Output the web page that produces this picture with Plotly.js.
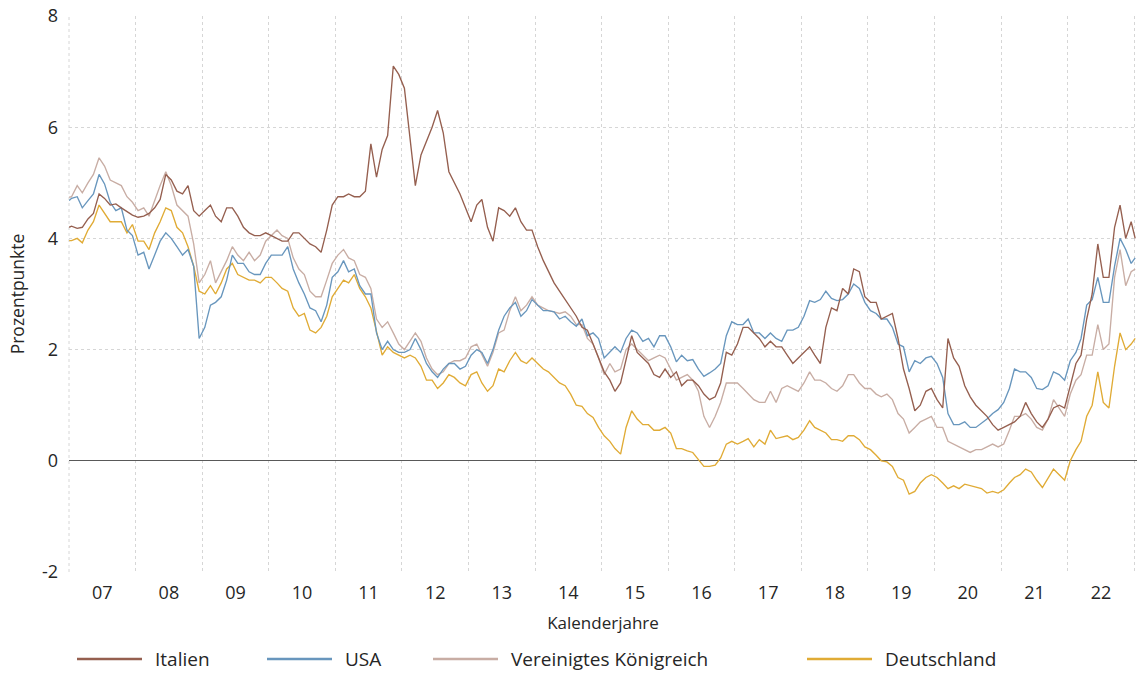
<!DOCTYPE html>
<html><head><meta charset="utf-8">
<script src="https://cdn.plot.ly/plotly-3.0.1.min.js"></script>
<style>html,body{margin:0;padding:0;background:#fff}#chart{width:1138px;height:673px}</style>
</head><body><div id="chart"></div>
<script>
// x positions: first trading day, mid-month for each month of the years, last day shown
const startDate = '2007-01-02';
const endDate = '2023-01-06';
const years = [2007,2008,2009,2010,2011,2012,2013,2014,2015,2016,2017,2018,2019,2020,2021,2022];
const seriesNames = ['Italien', 'USA', 'Vereinigtes Königreich', 'Deutschland'];
const yTickVals = [-2, 0, 2, 4, 6, 8];
const yTickText = ['-2', '0', '2', '4', '6', '8'];

// values in percent: [start, 12 monthly values per year ..., end]
const italien = [4.20,
 4.22,4.18,4.20,4.35,4.45,4.80,4.72,4.60,4.62,4.55,4.48,4.42,
 4.38,4.40,4.45,4.55,4.70,5.15,5.05,4.85,4.80,4.95,4.50,4.40,
 4.50,4.60,4.40,4.30,4.55,4.55,4.40,4.20,4.10,4.05,4.05,4.10,
 4.05,4.00,3.95,3.95,4.10,4.10,4.00,3.90,3.85,3.75,4.15,4.60,
 4.75,4.75,4.80,4.75,4.75,4.85,5.70,5.10,5.60,5.85,7.10,6.95,
 6.70,5.80,4.95,5.50,5.75,6.00,6.30,5.90,5.20,5.00,4.80,4.55,
 4.30,4.60,4.70,4.20,3.95,4.55,4.50,4.40,4.55,4.30,4.15,4.15,
 3.85,3.60,3.40,3.20,3.05,2.90,2.75,2.60,2.40,2.35,2.10,1.85,
 1.60,1.45,1.25,1.40,1.80,2.25,1.95,1.85,1.75,1.55,1.50,1.65,
 1.50,1.60,1.35,1.45,1.45,1.35,1.20,1.10,1.15,1.40,1.95,1.90,
 2.10,2.40,2.40,2.30,2.20,2.05,2.15,2.05,2.05,1.90,1.75,1.85,
 1.95,2.05,1.90,1.75,2.40,2.75,2.70,3.10,3.00,3.45,3.40,2.95,
 2.85,2.85,2.55,2.60,2.65,2.20,1.65,1.30,0.90,1.00,1.25,1.30,
 1.10,0.95,2.20,1.85,1.70,1.35,1.15,1.00,0.90,0.80,0.65,0.55,
 0.60,0.65,0.70,0.80,1.05,0.85,0.70,0.60,0.75,0.95,1.00,0.95,
 1.35,1.75,1.90,2.55,3.00,3.90,3.30,3.30,4.20,4.60,4.00,4.30,
 4.00];

const usa = [4.68,
 4.72,4.75,4.55,4.68,4.80,5.15,4.98,4.65,4.50,4.55,4.15,4.05,
 3.70,3.75,3.45,3.70,3.95,4.10,4.00,3.85,3.70,3.80,3.50,2.20,
 2.40,2.80,2.85,2.95,3.25,3.70,3.55,3.55,3.40,3.35,3.35,3.55,
 3.70,3.70,3.70,3.85,3.45,3.20,3.00,2.75,2.70,2.50,2.80,3.30,
 3.40,3.60,3.40,3.45,3.15,3.00,3.00,2.30,2.00,2.15,2.00,1.95,
 1.95,2.00,2.20,2.00,1.75,1.60,1.50,1.65,1.75,1.75,1.65,1.70,
 1.90,2.00,1.95,1.75,2.00,2.35,2.60,2.75,2.85,2.60,2.70,2.90,
 2.80,2.70,2.70,2.68,2.55,2.60,2.50,2.42,2.55,2.25,2.30,2.20,
 1.85,1.95,2.05,1.95,2.20,2.35,2.30,2.15,2.20,2.05,2.25,2.25,
 2.05,1.78,1.90,1.80,1.82,1.65,1.52,1.58,1.65,1.75,2.25,2.50,
 2.45,2.45,2.55,2.30,2.30,2.20,2.30,2.20,2.15,2.35,2.35,2.40,
 2.60,2.88,2.85,2.90,3.05,2.92,2.88,2.90,3.00,3.18,3.10,2.85,
 2.70,2.65,2.55,2.55,2.40,2.10,2.05,1.60,1.80,1.75,1.85,1.88,
 1.75,1.50,0.85,0.65,0.65,0.70,0.60,0.60,0.68,0.75,0.85,0.92,
 1.05,1.30,1.65,1.60,1.60,1.50,1.30,1.28,1.35,1.60,1.55,1.45,
 1.80,1.95,2.20,2.80,2.90,3.30,2.85,2.85,3.50,4.00,3.80,3.55,
 3.65];

const vereinigtesKoenigreich = [4.74,
 4.75,4.95,4.82,5.00,5.15,5.45,5.30,5.05,5.00,4.95,4.75,4.65,
 4.50,4.55,4.40,4.70,4.95,5.20,4.95,4.60,4.50,4.40,3.90,3.20,
 3.35,3.60,3.20,3.40,3.60,3.85,3.70,3.60,3.75,3.60,3.70,3.95,
 4.05,4.15,4.05,4.00,3.65,3.45,3.35,3.05,2.95,2.95,3.25,3.55,
 3.70,3.80,3.65,3.60,3.35,3.30,3.10,2.55,2.40,2.50,2.30,2.10,
 2.00,2.15,2.30,2.15,1.85,1.65,1.55,1.60,1.75,1.80,1.80,1.85,
 2.05,2.10,1.90,1.70,1.95,2.30,2.35,2.70,2.95,2.70,2.80,2.95,
 2.80,2.75,2.70,2.68,2.65,2.68,2.60,2.45,2.45,2.20,2.10,1.85,
 1.55,1.75,1.60,1.65,2.00,2.10,2.00,1.90,1.80,1.85,1.90,1.85,
 1.65,1.45,1.50,1.55,1.45,1.25,0.80,0.60,0.80,1.05,1.40,1.40,
 1.40,1.30,1.20,1.10,1.05,1.05,1.25,1.05,1.30,1.35,1.30,1.25,
 1.40,1.60,1.45,1.45,1.40,1.30,1.25,1.35,1.55,1.55,1.40,1.30,
 1.30,1.20,1.15,1.20,1.10,0.85,0.75,0.50,0.60,0.70,0.75,0.80,
 0.60,0.60,0.35,0.30,0.25,0.20,0.15,0.20,0.20,0.25,0.30,0.25,
 0.30,0.55,0.80,0.80,0.85,0.75,0.60,0.55,0.75,1.10,0.95,0.80,
 1.20,1.45,1.55,1.90,1.90,2.45,2.00,2.10,3.30,3.80,3.15,3.40,
 3.45];

const deutschland = [3.96,
 3.96,4.00,3.92,4.15,4.30,4.60,4.45,4.30,4.30,4.30,4.10,4.25,
 3.95,3.95,3.80,4.10,4.30,4.55,4.50,4.20,4.10,3.85,3.50,3.05,
 3.00,3.15,3.00,3.20,3.45,3.55,3.35,3.30,3.25,3.25,3.20,3.30,
 3.30,3.20,3.10,3.05,2.75,2.60,2.65,2.35,2.30,2.40,2.60,2.95,
 3.10,3.25,3.20,3.35,3.10,2.95,2.75,2.30,1.90,2.05,1.95,1.90,
 1.85,1.90,1.85,1.70,1.45,1.45,1.30,1.40,1.55,1.50,1.40,1.35,
 1.55,1.60,1.40,1.25,1.35,1.65,1.60,1.80,1.95,1.80,1.75,1.85,
 1.75,1.65,1.60,1.50,1.40,1.35,1.20,1.00,0.98,0.85,0.78,0.60,
 0.45,0.35,0.22,0.12,0.60,0.90,0.75,0.65,0.65,0.55,0.55,0.60,
 0.50,0.22,0.22,0.18,0.15,0.02,-0.10,-0.10,-0.08,0.05,0.30,0.35,
 0.30,0.35,0.40,0.25,0.38,0.30,0.55,0.40,0.42,0.45,0.38,0.42,
 0.55,0.72,0.60,0.55,0.50,0.38,0.38,0.35,0.45,0.45,0.38,0.25,
 0.20,0.10,0.00,-0.02,-0.10,-0.30,-0.35,-0.60,-0.55,-0.40,-0.30,-0.25,
 -0.30,-0.40,-0.50,-0.45,-0.50,-0.42,-0.45,-0.48,-0.50,-0.58,-0.55,-0.58,
 -0.52,-0.40,-0.30,-0.25,-0.15,-0.20,-0.35,-0.48,-0.30,-0.15,-0.25,-0.35,
 0.00,0.20,0.35,0.80,1.00,1.60,1.05,0.95,1.70,2.30,2.00,2.10,
 2.20];

const dates = [startDate];
years.forEach(y => { for (let m = 1; m <= 12; m++) dates.push(y + '-' + String(m).padStart(2, '0') + '-15'); });
dates.push(endDate);

const colors = ['#955f4f', '#6896bd', '#c8ada4', '#e0ab35'];
const values = [italien, usa, vereinigtesKoenigreich, deutschland];

const FONT = 'Open Sans, Noto Sans, sans-serif';
const traces = [3, 2, 1, 0].map(i => ({
  type: 'scatter', mode: 'lines', name: seriesNames[i],
  x: dates, y: values[i],
  line: {color: colors[i], width: 1.35},
  showlegend: false
}));

// custom legend geometry (pixels), converted to paper coords
const L = 69, R = 1137, T = 16, B = 572;
const px = x => (x - L) / (R - L);
const py = y => (B - y) / (B - T);
const legLineStart = [77, 267, 433, 807];
const legLen = 65;
const legY = 659;
const shapes = [
  {type: 'line', xref: 'paper', yref: 'paper', x0: 0, x1: 0, y0: 0, y1: 1,
   line: {color: '#d6d6d6', width: 1, dash: 'dot'}, layer: 'below'}
];
const annotations = [];
seriesNames.forEach((n, i) => {
  shapes.push({type: 'line', xref: 'paper', yref: 'paper',
    x0: px(legLineStart[i]), x1: px(legLineStart[i] + legLen), y0: py(legY), y1: py(legY),
    line: {color: colors[i], width: 2.5}});
  annotations.push({xref: 'paper', yref: 'paper', x: px(legLineStart[i] + legLen + 11), y: py(legY),
    xanchor: 'left', yanchor: 'middle', showarrow: false, text: n,
    font: {family: FONT, size: 19, color: '#262626'}});
});

const layout = {
  width: 1138, height: 673,
  margin: {l: L, r: 1138 - R, t: T, b: 673 - B},
  paper_bgcolor: '#fff', plot_bgcolor: '#fff',
  font: {family: FONT, color: '#262626'},
  xaxis: {
    type: 'date', range: ['2007-01-01', '2023-01-16'],
    dtick: 'M12', tick0: '2007-01-01', tickformat: '%y', ticklabelmode: 'period',
    showgrid: true, gridcolor: '#d6d6d6', griddash: 'dot', gridwidth: 1,
    ticks: '', tickfont: {size: 18, color: '#262626'}, ticklabelstandoff: 8,
    showline: false, zeroline: false,
    title: {text: 'Kalenderjahre', font: {size: 17, color: '#262626'}, standoff: 14}
  },
  yaxis: {
    range: [-2, 8], tickmode: 'array', tickvals: yTickVals, ticktext: yTickText,
    showgrid: true, gridcolor: '#d6d6d6', griddash: 'dot', gridwidth: 1,
    zeroline: true, zerolinecolor: '#595959', zerolinewidth: 1,
    ticks: '', tickfont: {size: 18, color: '#262626'}, ticklabelstandoff: 10,
    title: {text: 'Prozentpunkte', font: {size: 17.5, color: '#262626'}, standoff: 12}
  },
  shapes: shapes,
  annotations: annotations,
  showlegend: false
};

Plotly.newPlot('chart', traces, layout, {displayModeBar: false, staticPlot: true});
</script>
</body></html>
